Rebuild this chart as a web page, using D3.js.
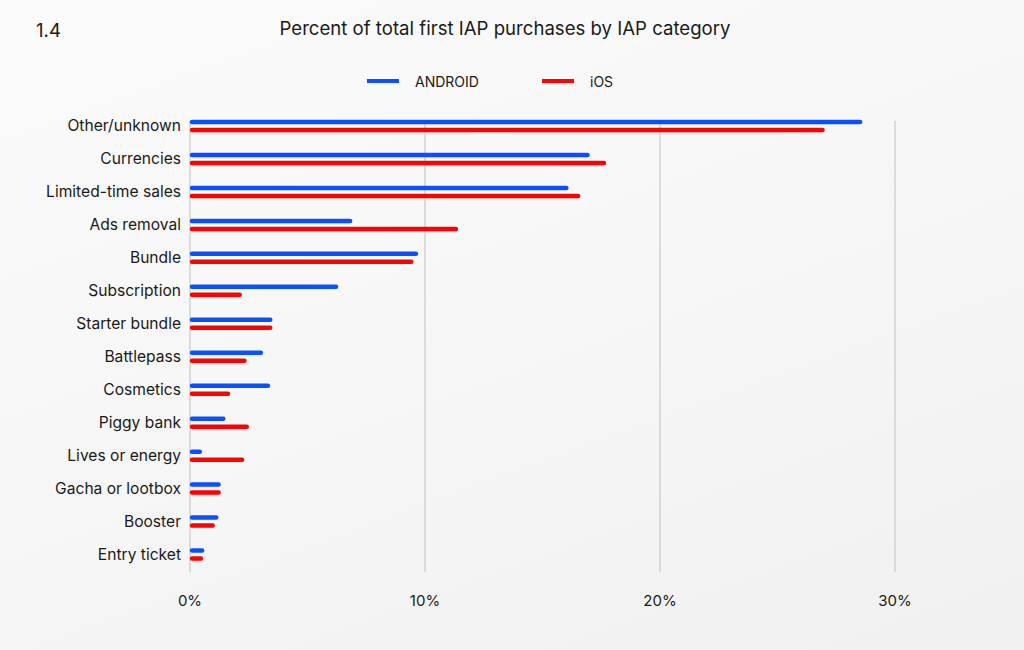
<!DOCTYPE html>
<html>
<head>
<meta charset="UTF-8">
<title>iap_first_purchase</title>
<style type="text/css">
	body {
		margin: 0;
		width: 1024px;
		height: 650px;
		overflow: hidden;
		background: linear-gradient(160deg, #fbfbfb 0%, #f6f6f6 55%, #f0f0f0 100%);
		font-family: Inter, "Noto Sans", sans-serif;
	}
	.cat { font-size: 15.6px; fill: #1a1a1a; text-anchor: end; }
	.tick-label { font-size: 15px; fill: #1a1a1a; text-anchor: middle; }
	.grid { stroke: #d2d2d2; stroke-width: 1.5; }
	.title { font-size: 18.6px; fill: #1a1a1a; }
	.legend { font-size: 14px; fill: #1a1a1a; }
</style>
<script src="https://cdn.jsdelivr.net/npm/d3@7"></script>
</head>
<body>
<div id="chart"></div>

<script type="text/javascript">

	var categories = ["Other/unknown", "Currencies", "Limited-time sales", "Ads removal", "Bundle",
		"Subscription", "Starter bundle", "Battlepass", "Cosmetics", "Piggy bank",
		"Lives or energy", "Gacha or lootbox", "Booster", "Entry ticket"];
	var series = ["ANDROID", "iOS"];
	var android = [28.6, 17.0, 16.1, 6.9, 9.7, 6.3, 3.5, 3.1, 3.4, 1.5, 0.5, 1.3, 1.2, 0.6];
	var ios = [27.0, 17.7, 16.6, 11.4, 9.5, 2.2, 3.5, 2.4, 1.7, 2.5, 2.3, 1.3, 1.05, 0.55];
	var ticks = [0, 10, 20, 30];
	var colors = ["#0a50ff", "#ff0000"];

	var W = 1024, H = 650;

	var svg = d3.select("#chart").append("svg")
		.attr("width", W)
		.attr("height", H);

	var x = d3.scaleLinear().domain([0, 30]).range([190, 895]);
	var y = d3.scaleBand().domain(categories).range([109.5, 571]);
	var ySub = d3.scalePoint().domain(series).range([-4, 4]);
	var color = d3.scaleOrdinal().domain(series).range(colors);

	// header
	svg.append("text").attr("class", "title")
		.attr("x", 36).attr("y", 37)
		.text("1.4");
	svg.append("text").attr("class", "title")
		.attr("x", 505).attr("y", 35)
		.attr("text-anchor", "middle")
		.text("Percent of total first IAP purchases by IAP category");

	// legend
	var legendX = [367, 542];
	series.forEach(function (s, i) {
		svg.append("line")
			.attr("x1", legendX[i]).attr("x2", legendX[i] + 32)
			.attr("y1", 81).attr("y2", 81)
			.attr("stroke", color(s))
			.attr("stroke-width", 4);
		svg.append("text").attr("class", "legend")
			.attr("x", legendX[i] + 48).attr("y", 86.5)
			.text(s);
	});

	// gridlines
	svg.selectAll("line.grid")
		.data(ticks)
		.enter().append("line")
			.attr("class", "grid")
			.attr("x1", function (d) { return x(d); })
			.attr("x2", function (d) { return x(d); })
			.attr("y1", 121)
			.attr("y2", 572);

	svg.selectAll("text.tick-label")
		.data(ticks)
		.enter().append("text")
			.attr("class", "tick-label")
			.attr("x", function (d) { return x(d); })
			.attr("y", 605.5)
			.text(function (d) { return d + "%"; });

	// category labels
	svg.selectAll("text.cat")
		.data(categories)
		.enter().append("text")
			.attr("class", "cat")
			.attr("x", 181)
			.attr("y", function (d) { return y(d) + y.bandwidth() / 2 + 5.5; })
			.text(function (d) { return d; });

	// bars (drawn as round-capped lines)
	var rows = [];
	categories.forEach(function (c, i) {
		rows.push({ cat: c, s: "ANDROID", v: android[i] });
		rows.push({ cat: c, s: "iOS", v: ios[i] });
	});

	svg.selectAll("line.bar")
		.data(rows)
		.enter().append("line")
			.attr("class", "bar")
			.attr("x1", x(0) + 2)
			.attr("x2", function (d) { return x(d.v) - 2; })
			.attr("y1", function (d) { return y(d.cat) + y.bandwidth() / 2 + ySub(d.s); })
			.attr("y2", function (d) { return y(d.cat) + y.bandwidth() / 2 + ySub(d.s); })
			.attr("stroke", function (d) { return color(d.s); })
			.attr("stroke-width", 4.5)
			.attr("stroke-linecap", "round");

</script>
</body>
</html>
